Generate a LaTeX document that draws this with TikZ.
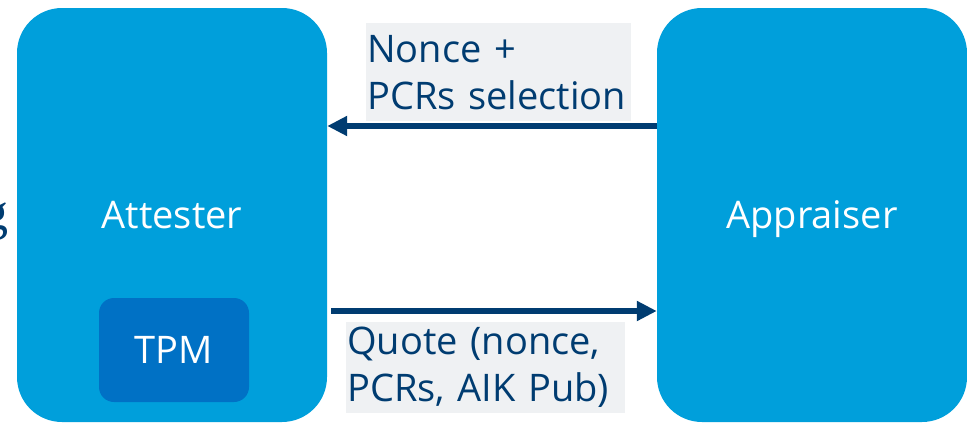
\documentclass[tikz,border=0pt]{standalone}
\usepackage{fontspec}
\setmainfont{Open Sans}
\newfontfamily\serifg{Liberation Serif}
\usetikzlibrary{arrows.meta}

\definecolor{boxblue}{HTML}{009FDB}
\definecolor{tpmblue}{HTML}{0071C5}
\definecolor{navy}{HTML}{003C71}
\definecolor{lblgray}{HTML}{EFF1F3}

\tikzset{
  party/.style={fill=boxblue, rounded corners=45pt, minimum width=310pt,
    minimum height=414pt, text=white, text height=27pt, text depth=0pt,
    font=\fontsize{38}{47}\selectfont},
  chip/.style={fill=tpmblue, rounded corners=15pt, minimum width=150pt,
    minimum height=104pt, text=white, text height=27pt, text depth=0pt,
    font=\fontsize{38}{47}\selectfont},
  msg/.style={fill=lblgray, text=navy, align=left, inner ysep=0pt, inner xsep=1pt,
    font=\fontsize{38}{47}\selectfont},
  flow/.style={draw=navy, line width=6pt,
    -{Triangle[length=20pt,width=19pt]}},
}

\begin{document}
\begin{tikzpicture}[x=1pt,y=-1pt]
  \useasboundingbox (0,0) rectangle (967,423);

  % fragment of a heading that runs off the left edge
  \node[inner sep=0pt, anchor=base east, text=navy,
        font=\serifg\fontsize{52}{52}\selectfont] (frag) at (9,229) {g};

  % the two parties
  \node[party] (att) at (172,215) {Attester};
  \node[party] (app) at (812,215) {Appraiser};
  \node[chip]  (tpm) at (174,350) {TPM};

  % message labels
  \node[msg, anchor=north west, text width=263pt, minimum height=98pt]
       (req) at (366,23) {Nonce +\\PCRs selection};
  \node[msg, anchor=north west, text width=277pt, minimum height=91pt]
       (resp) at (346,322) {Quote (nonce,\\PCRs, AIK Pub)};

  % request and response
  \coordinate (rq) at (0,126);
  \coordinate (rs) at (0,311);
  \draw[flow] (app.west |- rq) -- (att.east |- rq);
  \draw[flow] ([xshift=4pt]att.east |- rs) -- (app.west |- rs);
\end{tikzpicture}
\end{document}
